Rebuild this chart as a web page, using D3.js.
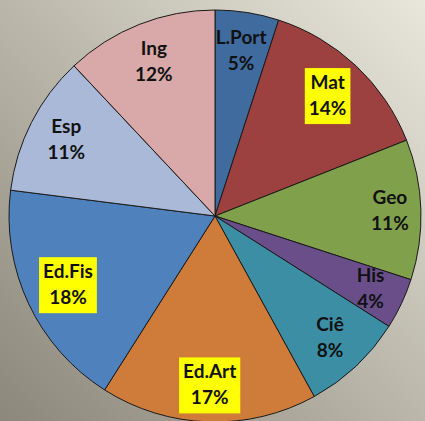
<!DOCTYPE html>
<html>
<head>
<meta charset="utf-8">
<script src="https://cdn.jsdelivr.net/npm/d3@7/dist/d3.min.js"></script>
<style>
  html, body { margin: 0; padding: 0; overflow: hidden; }
  svg { display: block; }
</style>
</head>
<body>
<script>
// Subjects and their share of the total, clockwise from 12 o'clock
const subjects = ["L.Port", "Mat", "Geo", "His", "Ciê", "Ed.Art", "Ed.Fis", "Esp", "Ing"];
const shares = [5, 14, 11, 4, 8, 17, 18, 11, 12];
const sliceColors = ["#3f6b9f", "#9d4040", "#80a04b", "#6a4e8a", "#3c8ea5", "#cf7b3a", "#4f81bd", "#abb9d8", "#d9a9a9"];
const highlighted = ["Mat", "Ed.Art", "Ed.Fis"];

const W = 425, H = 421;
const cx = 215, cy = 216, R = 206;

const svg = d3.select("body").append("svg")
  .attr("width", W).attr("height", H);

const defs = svg.append("defs");
const bg = defs.append("linearGradient").attr("id", "bg")
  .attr("x1", "0").attr("y1", "1").attr("x2", "1").attr("y2", "0");
bg.append("stop").attr("offset", "0%").attr("stop-color", "#8b877a");
bg.append("stop").attr("offset", "100%").attr("stop-color", "#e9e7db");
svg.append("rect").attr("width", W).attr("height", H).attr("fill", "url(#bg)");

const data = subjects.map((s, i) => ({ name: s, value: shares[i], color: sliceColors[i] }));

const pie = d3.pie().value(d => d.value).sort(null);
const arc = d3.arc().innerRadius(0).outerRadius(R);
const arcs = pie(data);

const g = svg.append("g").attr("transform", `translate(${cx},${cy})`);

g.selectAll("path.slice").data(arcs).enter().append("path")
  .attr("class", "slice")
  .attr("d", arc)
  .attr("fill", d => d.data.color)
  .attr("stroke", "#1a1a1a")
  .attr("stroke-width", 1);

// Labels sit at the inside end of each slice: push the label box outward
// along the mid-angle until its corners meet the rim (minus a margin).
const fontSize = 19, lineGap = 26;
const labels = g.selectAll("g.lbl").data(arcs).enter().append("g").attr("class", "lbl");

labels.each(function(d) {
  const sel = d3.select(this);
  const t1 = sel.append("text").text(d.data.name);
  const t2 = sel.append("text").text(d.data.value + "%");
  [t1, t2].forEach(t => t
    .attr("text-anchor", "middle")
    .attr("font-family", "Lato, 'Open Sans', sans-serif")
    .attr("font-weight", "bold")
    .attr("font-size", fontSize)
    .attr("fill", "#111"));
  t1.attr("y", -lineGap / 2 + 6);
  t2.attr("y", lineGap / 2 + 6);
  const w = Math.max(t1.node().getComputedTextLength(), t2.node().getComputedTextLength());
  const hw = w / 2 + 4, hh = 28;
  const mid = (d.startAngle + d.endAngle) / 2;
  const ux = Math.sin(mid), uy = -Math.cos(mid);
  const limit = R - 5;
  let best = 0;
  for (let r = 0; r < R; r += 0.5) {
    const px = ux * r, py = uy * r;
    const ok = [[-hw, -hh], [hw, -hh], [-hw, hh], [hw, hh]]
      .every(([ox, oy]) => Math.hypot(px + ox, py + oy) <= limit);
    if (ok) best = r; else break;
  }
  const px = ux * best, py = uy * best;
  sel.attr("transform", `translate(${px},${py})`);
  if (highlighted.includes(d.data.name)) {
    sel.insert("rect", "text")
      .attr("x", -hw).attr("y", -hh)
      .attr("width", hw * 2).attr("height", hh * 2)
      .attr("fill", "#ffff00");
  }
});
</script>
</body>
</html>
